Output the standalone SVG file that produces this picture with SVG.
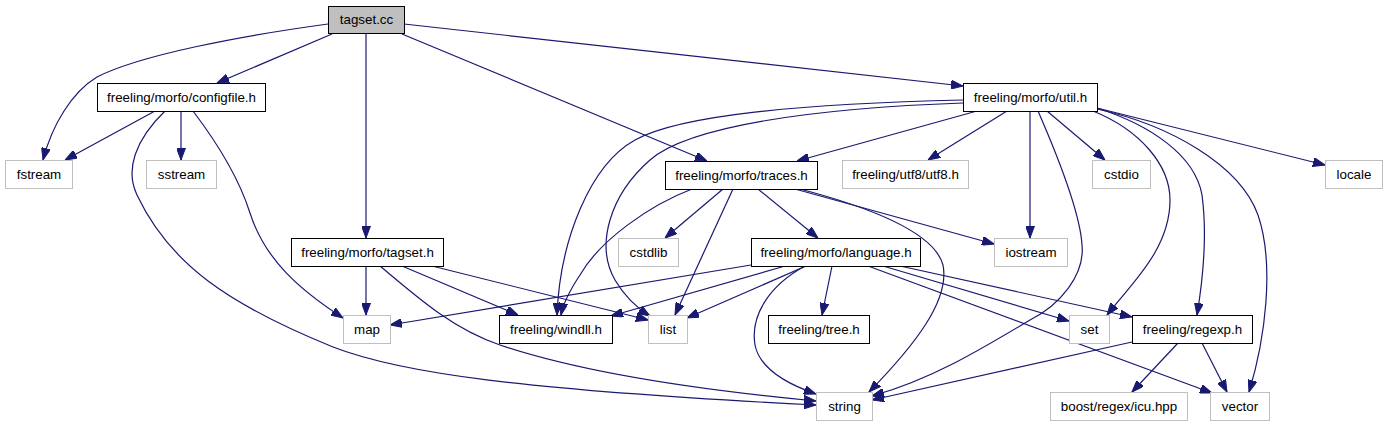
<svg xmlns="http://www.w3.org/2000/svg" width="1387" height="427" viewBox="0 0 1387 427">
<style>
.n rect{fill:#fff;stroke:#000;stroke-width:1}
.g rect{fill:#fff;stroke:#bfbfbf;stroke-width:1}
.r rect{fill:#bfbfbf;stroke:#000;stroke-width:1}
text{font-family:"Liberation Sans",Arial,sans-serif;font-size:13.33px;fill:#000;text-anchor:middle}
#edges path{fill:none;stroke:#191970;stroke-width:1.2;marker-end:url(#a)}
</style>
<defs>
<marker id="a" markerUnits="userSpaceOnUse" markerWidth="12" markerHeight="9" viewBox="0 0 12 9" refX="12" refY="4.5" orient="auto">
<path d="M0,0 L12,4.5 L0,9 z" fill="#191970" stroke="#191970" stroke-width="1"/>
</marker>
</defs>
<rect width="1387" height="427" fill="#fff"/>
<g id="edges">
<path d="M328,24 C240,36 140,55 97,77 C72,92 52,125 43,160"/>
<path d="M332,34 L217,83"/>
<path d="M366,33 L366,238"/>
<path d="M402,34 L707,161"/>
<path d="M404,24 L963,86"/>
<path d="M155,111 L65,160"/>
<path d="M181,111 L181,160"/>
<path d="M193,111 C215,140 238,175 250,213 C265,260 300,290 343,318"/>
<path d="M165,111 C135,140 125,170 137,195 C170,265 230,305 333,347 C400,373 520,390 816,405"/>
<path d="M366,266 L366,315"/>
<path d="M402,266 L518,315"/>
<path d="M432,266 L648,320"/>
<path d="M380,266 C420,300 455,330 500,345 C580,372 700,390 816,401"/>
<path d="M723,189 L665,238"/>
<path d="M692,189 C650,205 600,240 580,275 C570,290 563,305 561,315"/>
<path d="M733,189 L675,315"/>
<path d="M758,189 L818,238"/>
<path d="M795,189 L994,244"/>
<path d="M800,189 C880,210 935,235 943,265 C950,300 915,345 869,392"/>
<path d="M977,111 L797,161"/>
<path d="M963,100 C800,104 680,115 635,140 C590,165 560,240 557,315"/>
<path d="M963,103 C820,108 690,125 650,160 C610,195 595,245 615,280 C625,297 637,308 650,316"/>
<path d="M1007,111 L928,160"/>
<path d="M1030,111 L1030,238"/>
<path d="M1038,111 C1055,150 1080,210 1082,245 C1085,275 1060,305 1030,320 C980,350 930,380 872,396"/>
<path d="M1047,111 L1105,160"/>
<path d="M1093,111 C1140,130 1170,165 1170,200 C1170,250 1130,285 1107,315"/>
<path d="M1097,108 C1150,125 1195,155 1202,195 C1208,240 1202,285 1197,315"/>
<path d="M1097,109 C1170,125 1240,165 1258,215 C1275,265 1265,340 1249,392"/>
<path d="M1097,108 L1325,165"/>
<path d="M751,265 L390,325"/>
<path d="M785,266 L611,316"/>
<path d="M806,266 L687,318"/>
<path d="M832,266 L822,315"/>
<path d="M805,266 C770,285 750,315 755,345 C760,370 790,385 816,394"/>
<path d="M883,266 L1069,321"/>
<path d="M900,266 L1132,317"/>
<path d="M868,266 L1212,393"/>
<path d="M1132,342 L872,400"/>
<path d="M1178,343 L1132,392"/>
<path d="M1202,343 L1227,392"/>
</g>
<g id="tagset_cc" class="r"><rect x="328.5" y="6.5" width="76" height="27"/><text x="366.5" y="24">tagset.cc</text></g>
<g id="configfile_h" class="n"><rect x="97.5" y="83.5" width="168" height="28"/><text x="181.5" y="102">freeling/morfo/configfile.h</text></g>
<g id="fstream" class="g"><rect x="5.5" y="160.5" width="67" height="28"/><text x="39" y="179">fstream</text></g>
<g id="sstream" class="g"><rect x="146.5" y="160.5" width="70" height="28"/><text x="181.5" y="179">sstream</text></g>
<g id="tagset_h" class="n"><rect x="291.5" y="238.5" width="152" height="28"/><text x="367.5" y="257">freeling/morfo/tagset.h</text></g>
<g id="map" class="g"><rect x="343.5" y="315.5" width="47" height="28"/><text x="367" y="334">map</text></g>
<g id="traces_h" class="n"><rect x="665.5" y="161.5" width="152" height="28"/><text x="741.5" y="180">freeling/morfo/traces.h</text></g>
<g id="utf8_h" class="g"><rect x="842.5" y="160.5" width="126" height="28"/><text x="905.5" y="179">freeling/utf8/utf8.h</text></g>
<g id="util_h" class="n"><rect x="963.5" y="83.5" width="134" height="28"/><text x="1030.5" y="102">freeling/morfo/util.h</text></g>
<g id="cstdio" class="g"><rect x="1092.5" y="160.5" width="58" height="28"/><text x="1121.5" y="179">cstdio</text></g>
<g id="locale" class="g"><rect x="1325.5" y="160.5" width="57" height="28"/><text x="1354" y="179">locale</text></g>
<g id="iostream" class="g"><rect x="994.5" y="238.5" width="73" height="28"/><text x="1031" y="257">iostream</text></g>
<g id="cstdlib" class="g"><rect x="618.5" y="238.5" width="60" height="28"/><text x="648.5" y="257">cstdlib</text></g>
<g id="language_h" class="n"><rect x="751.5" y="238.5" width="169" height="28"/><text x="836" y="257">freeling/morfo/language.h</text></g>
<g id="windll_h" class="n"><rect x="499.5" y="315.5" width="113" height="28"/><text x="556" y="334">freeling/windll.h</text></g>
<g id="list" class="g"><rect x="648.5" y="315.5" width="39" height="28"/><text x="668" y="334">list</text></g>
<g id="tree_h" class="n"><rect x="768.5" y="315.5" width="101" height="28"/><text x="819" y="334">freeling/tree.h</text></g>
<g id="string" class="g"><rect x="816.5" y="392.5" width="56" height="28"/><text x="844.5" y="411">string</text></g>
<g id="set" class="g"><rect x="1069.5" y="315.5" width="40" height="28"/><text x="1089.5" y="334">set</text></g>
<g id="regexp_h" class="n"><rect x="1132.5" y="315.5" width="120" height="28"/><text x="1192.5" y="334">freeling/regexp.h</text></g>
<g id="icu_hpp" class="g"><rect x="1050.5" y="392.5" width="137" height="28"/><text x="1119" y="411">boost/regex/icu.hpp</text></g>
<g id="vector" class="g"><rect x="1210.5" y="392.5" width="59" height="28"/><text x="1240" y="411">vector</text></g>
</svg>
